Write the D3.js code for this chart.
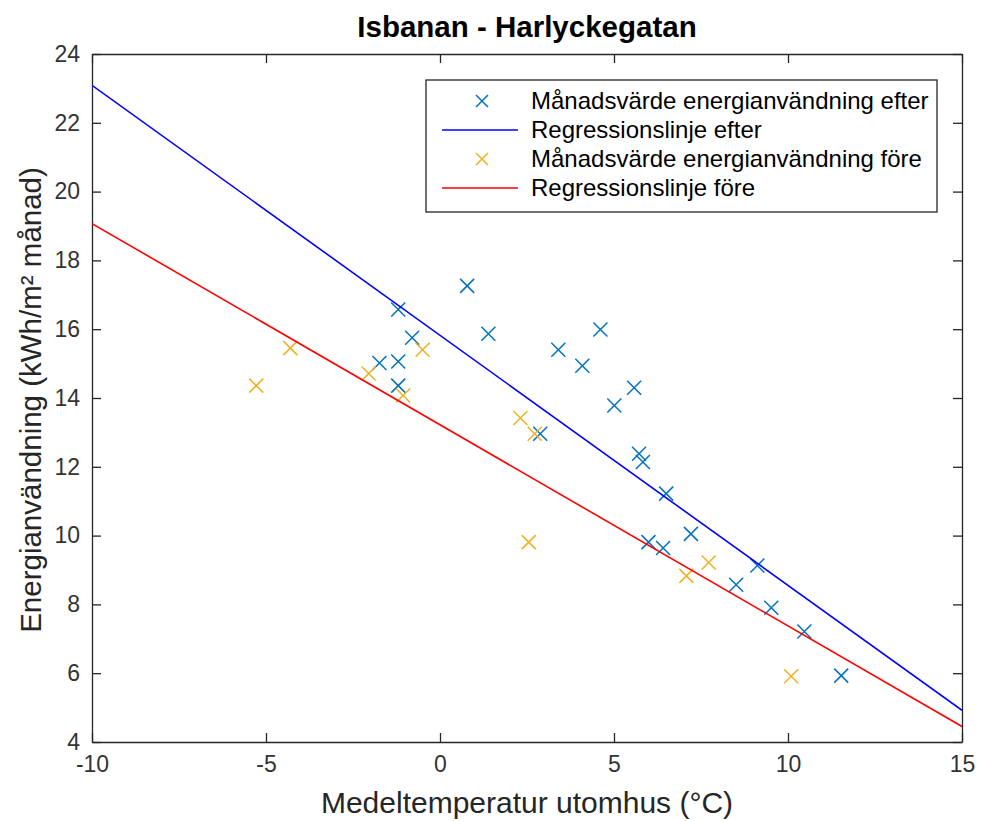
<!DOCTYPE html>
<html>
<head>
<meta charset="utf-8">
<script src="https://cdn.jsdelivr.net/npm/d3@7"></script>
<style>
  body { margin: 0; background: #fff; }
  text { font-family: "Liberation Sans", Arial, Helvetica, sans-serif; }
</style>
</head>
<body>
<div class="canvas"></div>
<script>
// data
const afterTemp = [0.78, -1.20, 1.39, 4.61, -0.80, 3.40, 4.09, -1.74, -1.20, -1.20, 5.58, 5.01, 2.88, 5.72, 5.83, 6.50, 7.21, 5.99, 6.41, 9.12, 8.51, 9.52, 10.47, 11.53]
const afterEnergy = [17.26, 16.57, 15.87, 15.99, 15.75, 15.40, 14.94, 15.02, 15.06, 14.36, 14.30, 13.78, 12.96, 12.38, 12.14, 11.22, 10.05, 9.81, 9.64, 9.13, 8.57, 7.90, 7.21, 5.93]

const beforeTemp = [-5.28, -4.30, -2.05, -1.06, -0.50, 2.31, 2.72, 2.55, 7.08, 7.72, 10.09]
const beforeEnergy = [14.36, 15.45, 14.71, 14.07, 15.40, 13.42, 12.96, 9.81, 8.83, 9.22, 5.91]

// regression line end points
const lineTemp = [-10, 15]
const afterLine = [23.09, 4.92]
const beforeLine = [19.07, 4.45]

const xTicks = [-10, -5, 0, 5, 10, 15]
const yTicks = [4, 6, 8, 10, 12, 14, 16, 18, 20, 22, 24]

const legendLabels = [
  'Månadsvärde energianvändning efter',
  'Regressionslinje efter',
  'Månadsvärde energianvändning före',
  'Regressionslinje före'
]

// dimensions
const dims = { width: 981, height: 821 }
const plot = { left: 92, top: 54, right: 962, bottom: 742 }
const axisColor = '#262626'
const colors = { afterPt: '#0072BD', afterLn: '#0000FF', beforePt: '#EDB120', beforeLn: '#FF0000' }

const svg = d3.select('.canvas')
  .append('svg')
  .attr('width', dims.width)
  .attr('height', dims.height)

const x = d3.scaleLinear().domain([-10, 15]).range([plot.left, plot.right])
const y = d3.scaleLinear().domain([4, 24]).range([plot.bottom, plot.top])

const tickLen = 9

// axes (ticks inside, box on)
const xAxisB = d3.axisBottom(x).tickValues(xTicks).tickSizeInner(-tickLen).tickSizeOuter(0).tickPadding(14)
const xAxisT = d3.axisTop(x).tickValues(xTicks).tickSizeInner(-tickLen).tickSizeOuter(0).tickFormat('')
const yAxisL = d3.axisLeft(y).tickValues(yTicks).tickSizeInner(-tickLen).tickSizeOuter(0).tickPadding(12)
const yAxisR = d3.axisRight(y).tickValues(yTicks).tickSizeInner(-tickLen).tickSizeOuter(0).tickFormat('')

const fmt = d => d < 0 ? '-' + Math.abs(d) : String(d)
xAxisB.tickFormat(fmt)

const styleAxis = g => {
  g.select('.domain').attr('stroke', axisColor).attr('stroke-width', 1.3)
  g.selectAll('.tick line').attr('stroke', axisColor).attr('stroke-width', 1.3)
  g.selectAll('.tick text').attr('fill', '#333').style('font-size', '23px')
    .style('font-family', '"Liberation Sans", Arial, sans-serif')
}

svg.append('g').attr('transform', `translate(0, ${plot.bottom})`).call(xAxisB).call(styleAxis)
svg.append('g').attr('transform', `translate(0, ${plot.top})`).call(xAxisT).call(styleAxis)
svg.append('g').attr('transform', `translate(${plot.left}, 0)`).call(yAxisL).call(styleAxis)
svg.append('g').attr('transform', `translate(${plot.right}, 0)`).call(yAxisR).call(styleAxis)

// clip for lines
svg.append('clipPath').attr('id', 'clip')
  .append('rect')
  .attr('x', plot.left).attr('y', plot.top)
  .attr('width', plot.right - plot.left).attr('height', plot.bottom - plot.top)

const graph = svg.append('g').attr('clip-path', 'url(#clip)')

const line = d3.line().x(d => x(d[0])).y(d => y(d[1]))

const cross = (g, cx, cy, color, r) => {
  g.append('path')
    .attr('d', `M${cx - r},${cy - r}L${cx + r},${cy + r}M${cx - r},${cy + r}L${cx + r},${cy - r}`)
    .attr('stroke', color)
    .attr('stroke-width', 1.5)
    .attr('fill', 'none')
}

// after: markers then line, before: markers then line
const afterPts = graph.append('g')
afterTemp.forEach((t, i) => cross(afterPts, x(t), y(afterEnergy[i]), colors.afterPt, 7))

graph.append('path')
  .datum(lineTemp.map((t, i) => [t, afterLine[i]]))
  .attr('d', line)
  .attr('stroke', colors.afterLn)
  .attr('stroke-width', 1.6)
  .attr('fill', 'none')

const beforePts = graph.append('g')
beforeTemp.forEach((t, i) => cross(beforePts, x(t), y(beforeEnergy[i]), colors.beforePt, 7))

graph.append('path')
  .datum(lineTemp.map((t, i) => [t, beforeLine[i]]))
  .attr('d', line)
  .attr('stroke', colors.beforeLn)
  .attr('stroke-width', 1.6)
  .attr('fill', 'none')

// title + labels
svg.append('text')
  .attr('x', (plot.left + plot.right) / 2)
  .attr('y', 37)
  .attr('text-anchor', 'middle')
  .attr('font-weight', 'bold')
  .attr('fill', '#000')
  .style('font-size', '29.5px')
  .text('Isbanan - Harlyckegatan')

svg.append('text')
  .attr('x', (plot.left + plot.right) / 2)
  .attr('y', 813)
  .attr('text-anchor', 'middle')
  .attr('fill', axisColor)
  .style('font-size', '30px')
  .text('Medeltemperatur utomhus (°C)')

svg.append('text')
  .attr('transform', `translate(41, ${(plot.top + plot.bottom) / 2 + 2}) rotate(-90)`)
  .attr('text-anchor', 'middle')
  .attr('fill', axisColor)
  .style('font-size', '29.5px')
  .text('Energianvändning (kWh/m² månad)')

// legend
const legend = { x: 426, y: 80, w: 511, h: 132, row: 29 }
const legendGroup = svg.append('g')

legendGroup.append('rect')
  .attr('x', legend.x).attr('y', legend.y)
  .attr('width', legend.w).attr('height', legend.h)
  .attr('fill', '#fff')
  .attr('stroke', axisColor)
  .attr('stroke-width', 1.3)

const legendKinds = [
  { kind: 'pt', color: colors.afterPt },
  { kind: 'ln', color: colors.afterLn },
  { kind: 'pt', color: colors.beforePt },
  { kind: 'ln', color: colors.beforeLn }
]

legendLabels.forEach((label, i) => {
  const cy = legend.y + 21 + i * legend.row
  const k = legendKinds[i]
  if (k.kind === 'pt') {
    cross(legendGroup, 482, cy, k.color, 6)
  } else {
    legendGroup.append('line')
      .attr('x1', 442).attr('x2', 518)
      .attr('y1', cy).attr('y2', cy)
      .attr('stroke', k.color)
      .attr('stroke-width', 1.6)
  }
  legendGroup.append('text')
    .attr('x', 531)
    .attr('y', cy)
    .attr('dy', '0.35em')
    .attr('fill', '#000')
    .style('font-size', '24px')
    .text(label)
})
</script>
</body>
</html>
